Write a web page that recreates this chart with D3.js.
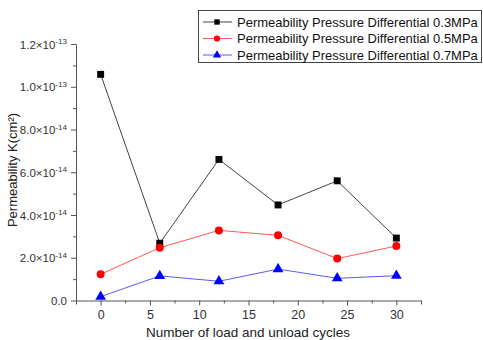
<!DOCTYPE html>
<html><head><meta charset="utf-8">
<script src="https://cdn.jsdelivr.net/npm/d3@7"></script>
<style>body{margin:0;background:#fff}svg{display:block;font-family:"Liberation Sans",Arial,sans-serif}</style>
</head><body><svg id="c" width="483" height="340"></svg>
<script>
const cycles = [0, 6, 12, 18, 24, 30];
const p03 = [1.058e-13, 2.68e-14, 6.6e-14, 4.47e-14, 5.6e-14, 2.92e-14];
const p05 = [1.23e-14, 2.47e-14, 3.28e-14, 3.05e-14, 1.96e-14, 2.55e-14];
const p07 = [0.18e-14, 1.15e-14, 0.90e-14, 1.47e-14, 1.04e-14, 1.16e-14];
const seriesNames = ["Permeability Pressure Differential 0.3MPa","Permeability Pressure Differential 0.5MPa","Permeability Pressure Differential 0.7MPa"];
const yTicks = [0, 2e-14, 4e-14, 6e-14, 8e-14, 1.0e-13, 1.2e-13];
const yTickMant = ["0.0","2.0","4.0","6.0","8.0","1.0","1.2"];
const yTickExp = [null,"-14","-14","-14","-14","-13","-13"];
const xTicks = [0,5,10,15,20,25,30];
const xTitle = "Number of load and unload cycles";
const yTitle = "Permeability K(cm²)";

const svg = d3.select("#c");
const L=76, R=421, T=44, B=300.5;
const x = d3.scaleLinear().domain([-2.5,32.5]).range([L,R]);
const y = d3.scaleLinear().domain([0,1.2e-13]).range([B,T]);
const axisCol="#555", textCol="#333";

const gx = svg.append("g").attr("transform",`translate(0,${B})`);
gx.call(d3.axisBottom(x).tickValues(d3.range(-2.5,32.6,2.5).filter(v=>v%5!==0)).tickSize(3).tickFormat(""));
gx.call(g=>g.select(".domain").remove());
const gx2 = svg.append("g").attr("transform",`translate(0,${B})`)
 .call(d3.axisBottom(x).tickValues(xTicks).tickSize(5).tickSizeOuter(4).tickPadding(5));
gx2.selectAll("text").attr("font-size",12.5).attr("fill",textCol).attr("font-family","Liberation Sans, Arial");
svg.selectAll(".tick line").attr("stroke",axisCol);
gx2.select(".domain").attr("stroke",axisCol);

const yMinor = yTicks.slice(0,-1).map((v,i)=>(v+yTicks[i+1])/2);
const gy = svg.append("g").attr("transform",`translate(${L},0)`);
gy.call(d3.axisLeft(y).tickValues(yMinor).tickSize(3).tickFormat(""));
gy.select(".domain").remove();
const gy2 = svg.append("g").attr("transform",`translate(${L},0)`)
 .call(d3.axisLeft(y).tickValues(yTicks).tickSize(5).tickSizeOuter(0).tickFormat(""));
gy2.select(".domain").attr("stroke",axisCol);
svg.selectAll(".tick line").attr("stroke",axisCol);
const tfs = 11.5;
gy2.selectAll(".tick").each(function(d,i){
  const t = d3.select(this).append("text").attr("x",-9).attr("dy","0.35em")
   .attr("text-anchor","end").attr("fill",textCol).attr("font-size",tfs);
  if (yTickExp[i]===null){ t.text(yTickMant[i]); }
  else {
    t.append("tspan").text(yTickMant[i]+"×10");
    t.append("tspan").attr("font-size",tfs*0.7).attr("dy","-0.55em").text(yTickExp[i]);
  }
});

svg.append("text").attr("x",248).attr("y",337).attr("text-anchor","middle")
 .attr("font-size",13.5).attr("fill","#222").text(xTitle);
svg.append("text").attr("transform","translate(17,170) rotate(-90)").attr("text-anchor","middle")
 .attr("font-size",13).attr("fill","#222").text(yTitle);

const series = [
 {vals:p03, line:"#444", fill:"#000", shape:d3.symbolSquare, size:48},
 {vals:p05, line:"#ff5a5a", fill:"#ff0000", shape:d3.symbolCircle, size:50},
 {vals:p07, line:"#5a5aff", fill:"#0000ff", shape:d3.symbolTriangle, size:50}
];
const line = d3.line().x((d,i)=>x(cycles[i])).y(d=>y(d));
series.forEach(s=>{
  svg.append("path").attr("d",line(s.vals)).attr("fill","none").attr("stroke",s.line).attr("stroke-width",1);
  svg.append("g").selectAll("path").data(s.vals).join("path")
   .attr("transform",(d,i)=>`translate(${x(cycles[i])},${y(d)})`)
   .attr("d",d3.symbol(s.shape,s.size)).attr("fill",s.fill);
});

const lg = svg.append("g");
lg.append("rect").attr("x",198.5).attr("y",10.5).attr("width",283).attr("height",52)
 .attr("fill","#fff").attr("stroke","#444").attr("stroke-width",1);
seriesNames.forEach((n,i)=>{
  const yy = 22 + i*16.5, s=series[i];
  lg.append("line").attr("x1",203).attr("x2",232).attr("y1",yy).attr("y2",yy).attr("stroke",s.line);
  lg.append("path").attr("transform",`translate(217,${yy})`).attr("d",d3.symbol(s.shape,s.size*0.6)).attr("fill",s.fill);
  const t = lg.append("text").attr("x",237).attr("y",yy).attr("dy","0.35em").attr("font-size",14).attr("fill","#111").text(n);
  const w = t.node().getComputedTextLength();
  t.attr("font-size", 14*241/w);
});
</script></body></html>
